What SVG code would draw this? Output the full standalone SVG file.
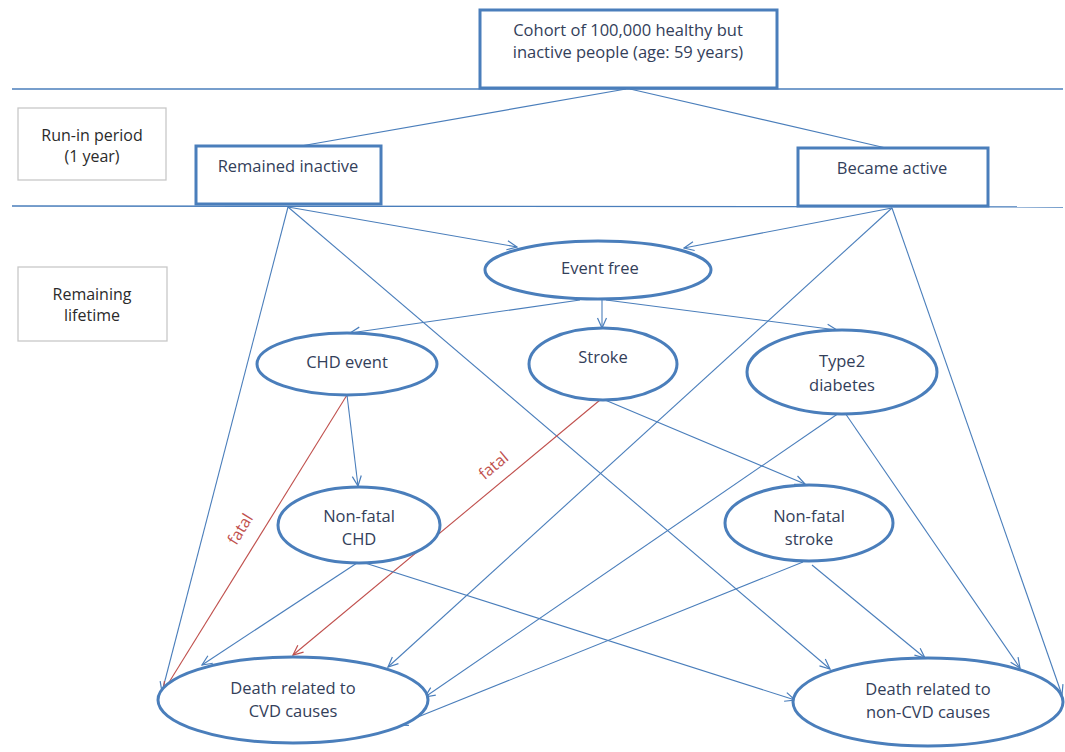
<svg xmlns="http://www.w3.org/2000/svg" width="1065" height="752" viewBox="0 0 1065 752">
<style>
.box{fill:#fff;stroke:#4a7ebb;stroke-width:3}
.lbl{fill:#fff;stroke:#c8c8c8;stroke-width:1.3}
.el{fill:#fff;stroke:#4a7ebb;stroke-width:3}
.t{font-family:"Open Sans","Liberation Sans",sans-serif;font-size:16.5px;fill:#33405a;text-anchor:middle}
.tk{font-family:"Open Sans","Liberation Sans",sans-serif;font-size:16px;fill:#2b2b2b;text-anchor:middle}
.ln{stroke:#4a7ebb;stroke-width:1.1;fill:none}
.hl{stroke:#4a7ebb;stroke-width:1.3;fill:none}
.a{stroke:#4a7ebb;stroke-width:1.1;fill:none;marker-end:url(#ab)}
.r{stroke:#c0504d;stroke-width:1.1;fill:none;marker-end:url(#ar)}
.ft{font-family:"Open Sans","Liberation Sans",sans-serif;font-size:16px;fill:#c0504d;text-anchor:middle}
</style>
<defs>
<marker id="ab" viewBox="0 0 12 12" refX="11" refY="6" markerWidth="12" markerHeight="12" orient="auto" markerUnits="userSpaceOnUse"><path d="M1,1.5 L11,6 L1,10.5" fill="none" stroke="#4a7ebb" stroke-width="1.2"/></marker>
<marker id="ar" viewBox="0 0 12 12" refX="11" refY="6" markerWidth="12" markerHeight="12" orient="auto" markerUnits="userSpaceOnUse"><path d="M1,1.5 L11,6 L1,10.5" fill="none" stroke="#c0504d" stroke-width="1.2"/></marker>
</defs>
<rect width="1065" height="752" fill="#fff"/>
<g id="bands">
<line class="hl" x1="12" y1="89" x2="1063" y2="89"/>
<line class="hl" x1="12" y1="206" x2="1063" y2="207"/>
</g>
<g id="connectors">
<line class="ln" x1="626" y1="89" x2="295" y2="147"/>
<line class="ln" x1="630" y1="89" x2="886" y2="148"/>
<line class="a" x1="288" y1="207" x2="517" y2="247"/>
<line class="a" x1="288" y1="207" x2="162" y2="692"/>
<line class="a" x1="288" y1="207" x2="830" y2="669"/>
<line class="a" x1="892" y1="208" x2="684" y2="248"/>
<line class="a" x1="892" y1="208" x2="388" y2="667"/>
<line class="a" x1="892" y1="208" x2="1062" y2="695"/>
<line class="a" x1="580" y1="300" x2="350" y2="333"/>
<line class="a" x1="602" y1="299" x2="602" y2="328"/>
<line class="a" x1="606" y1="300" x2="837" y2="330"/>
<line class="a" x1="347" y1="395" x2="358" y2="486"/>
<line class="r" x1="347" y1="395" x2="163" y2="692"/>
<line class="r" x1="600" y1="400" x2="293" y2="655"/>
<line class="a" x1="605" y1="400" x2="805" y2="484"/>
<line class="a" x1="839" y1="413" x2="425" y2="697"/>
<line class="a" x1="845" y1="413" x2="1020" y2="668"/>
<line class="a" x1="357" y1="563" x2="202" y2="665"/>
<line class="a" x1="365" y1="563" x2="795" y2="700"/>
<line class="a" x1="803" y1="562" x2="398" y2="725"/>
<line class="a" x1="812" y1="565" x2="925" y2="658"/>
<text class="ft" transform="translate(245,532) rotate(-58)">fatal</text>
<text class="ft" transform="translate(497,470) rotate(-40)">fatal</text>
</g>
<g id="cohort">
<rect class="box" x="480" y="10" width="297" height="78"/>
<text class="t" x="628" y="36">Cohort of 100,000 healthy but</text>
<text class="t" x="628" y="58">inactive people (age: 59 years)</text>
</g>
<g id="runin">
<rect class="lbl" x="18" y="108" width="148" height="72"/>
<text class="tk" x="92" y="141">Run-in period</text>
<text class="tk" x="92" y="162">(1 year)</text>
</g>
<g id="remaining">
<rect class="lbl" x="18" y="267" width="149" height="74"/>
<text class="tk" x="92" y="300">Remaining</text>
<text class="tk" x="92" y="321">lifetime</text>
</g>
<g id="remained">
<rect class="box" x="196" y="146" width="185" height="58"/>
<text class="t" x="288" y="172">Remained inactive</text>
</g>
<g id="became">
<rect class="box" x="798" y="148" width="190" height="58"/>
<text class="t" x="892" y="174">Became active</text>
</g>
<g id="eventfree">
<ellipse class="el" cx="598" cy="270" rx="113" ry="29"/>
<text class="t" x="600" y="274">Event free</text>
</g>
<g id="chd">
<ellipse class="el" cx="347" cy="364" rx="90" ry="31"/>
<text class="t" x="347" y="368">CHD event</text>
</g>
<g id="stroke">
<ellipse class="el" cx="603" cy="364" rx="74" ry="36"/>
<text class="t" x="603" y="363">Stroke</text>
</g>
<g id="type2">
<ellipse class="el" cx="842" cy="372" rx="95" ry="42"/>
<text class="t" x="842" y="367">Type2</text>
<text class="t" x="842" y="391">diabetes</text>
</g>
<g id="nfchd">
<ellipse class="el" cx="359" cy="525" rx="81" ry="38"/>
<text class="t" x="359" y="522">Non-fatal</text>
<text class="t" x="359" y="545">CHD</text>
</g>
<g id="nfstroke">
<ellipse class="el" cx="809" cy="523" rx="84" ry="38"/>
<text class="t" x="809" y="522">Non-fatal</text>
<text class="t" x="809" y="545">stroke</text>
</g>
<g id="deathcvd">
<ellipse class="el" cx="293" cy="700" rx="135" ry="43"/>
<text class="t" x="293" y="694">Death related to</text>
<text class="t" x="293" y="717">CVD causes</text>
</g>
<g id="deathnoncvd">
<ellipse class="el" cx="928" cy="702" rx="135" ry="44"/>
<text class="t" x="928" y="695">Death related to</text>
<text class="t" x="928" y="718">non-CVD causes</text>
</g>
</svg>
